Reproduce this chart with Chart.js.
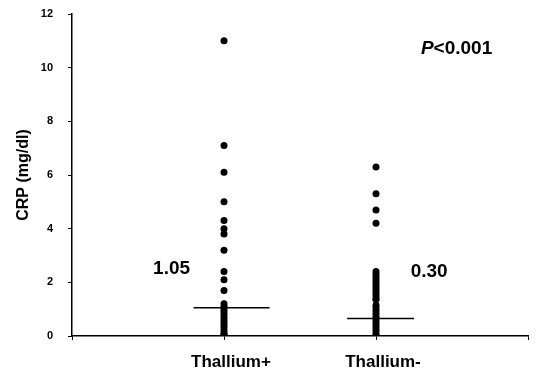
<!DOCTYPE html>
<html>
<head>
<meta charset="utf-8">
<script src="https://cdn.jsdelivr.net/npm/chart.js@4/dist/chart.umd.min.js"></script>
<style>
  body { margin: 0; background: #fff; }
  #wrap { width: 540px; height: 370px; }
</style>
</head>
<body>
<div id="wrap"><canvas id="chart" width="540" height="370"></canvas></div>
<script>
// groups sit at x = 1 and x = 2 on a 0..3 axis
const groups = ["Thallium+", "Thallium-"];
const thalliumPos = [11.0, 7.1, 6.1, 5.0, 4.3, 4.0, 3.8, 3.2, 2.4, 2.1, 1.7,
  1.2, 1.1, 1.0, 0.9, 0.8, 0.7, 0.6, 0.5, 0.4, 0.3, 0.2, 0.1, 0.05, 0.0];
const thalliumNeg = [6.3, 5.3, 4.7, 4.2,
  2.4, 2.3, 2.2, 2.1, 2.0, 1.9, 1.8, 1.7, 1.6, 1.5, 1.4, 1.35,
  1.15, 1.05, 0.95, 0.85, 0.75, 0.65, 0.55, 0.45, 0.35, 0.25, 0.15, 0.05, 0.0];
const medianLine = [1.05, 0.65];
const medianText = ["1.05", "0.30"];
const pText = "P<0.001";
const yTicks = [0, 2, 4, 6, 8, 10, 12];

const black = "#000";
const fam = "'Liberation Sans', Arial, sans-serif";

function column(values, x) {
  return values.map(v => ({ x: x, y: v }));
}

function medianSeg(i, left, right) {
  const x = i + 1;
  return [{ x: x - left, y: medianLine[i] }, { x: x + right, y: medianLine[i] }];
}

// text notes placed in data coordinates
const notes = [
  { text: medianText[0], x: 0.655, y: 2.5 },
  { text: medianText[1], x: 2.35, y: 2.4 },
  { text: pText, x: 2.53, y: 10.7, italicP: true }
];

const notesPlugin = {
  id: "notes",
  afterDraw(chart) {
    const ctx = chart.ctx;
    const xs = chart.scales.x, ys = chart.scales.y;
    ctx.save();
    ctx.fillStyle = black;
    ctx.textBaseline = "middle";

    // y tick labels, set further from the axis than the built-in padding allows
    ctx.font = "bold 11px " + fam;
    ctx.textAlign = "right";
    yTicks.forEach(v => {
      ctx.fillText(String(v), ys.right - 4 - 15, ys.getPixelForValue(v));
    });

    notes.forEach(n => {
      const px = xs.getPixelForValue(n.x);
      const py = ys.getPixelForValue(n.y);
      if (n.italicP) {
        const rest = n.text.slice(1);
        ctx.font = "italic bold 19px " + fam;
        const wP = ctx.measureText("P").width;
        ctx.font = "bold 19px " + fam;
        const wR = ctx.measureText(rest).width;
        const x0 = px - (wP + wR) / 2;
        ctx.textAlign = "left";
        ctx.font = "italic bold 19px " + fam;
        ctx.fillText("P", x0, py);
        ctx.font = "bold 19px " + fam;
        ctx.fillText(rest, x0 + wP, py);
      } else {
        ctx.font = "bold 19px " + fam;
        ctx.textAlign = "center";
        ctx.fillText(n.text, px, py);
      }
    });
    ctx.restore();
  }
};

const dotStyle = {
  showLine: false,
  pointRadius: 3.5,
  pointBackgroundColor: black,
  pointBorderWidth: 0,
  borderColor: black
};

new Chart(document.getElementById("chart"), {
  type: "scatter",
  data: {
    datasets: [
      Object.assign({ label: groups[0], data: column(thalliumPos, 1) }, dotStyle),
      Object.assign({ label: groups[1], data: column(thalliumNeg, 2) }, dotStyle),
      { type: "line", label: "median+", data: medianSeg(0, 0.2, 0.3), borderColor: black,
        borderWidth: 1.5, pointRadius: 0 },
      { type: "line", label: "median-", data: medianSeg(1, 0.19, 0.25), borderColor: black,
        borderWidth: 1.5, pointRadius: 0 }
    ]
  },
  options: {
    responsive: false,
    animation: false,
    layout: { padding: { top: 14, right: 10, bottom: 0, left: 0 } },
    plugins: { legend: { display: false }, tooltip: { enabled: false } },
    scales: {
      x: {
        type: "linear",
        min: 0,
        max: 3,
        afterFit: s => { s.height = 34; },
        afterBuildTicks: s => { s.ticks = [0, 1, 2, 3].map(v => ({ value: v })); },
        border: { display: true, color: black, width: 1.5 },
        grid: { drawOnChartArea: false, drawTicks: true, tickLength: 4, color: black },
        ticks: {
          color: black,
          padding: 12,
          labelOffset: 7,
          maxRotation: 0,
          font: { family: fam, size: 17, weight: "bold" },
          callback: v => (v === 1 || v === 2) ? groups[v - 1] : ""
        }
      },
      y: {
        min: 0,
        max: 12,
        afterFit: s => { s.width = 72; },
        afterBuildTicks: s => { s.ticks = yTicks.map(v => ({ value: v })); },
        border: { display: true, color: black, width: 1.5 },
        grid: { drawOnChartArea: false, drawTicks: true, tickLength: 4, color: black },
        ticks: { display: false },
        title: {
          display: true,
          text: "CRP (mg/dl)",
          color: black,
          padding: { top: 14, bottom: 0 },
          font: { family: fam, size: 16, weight: "bold" }
        }
      }
    }
  },
  plugins: [notesPlugin]
});
</script>
</body>
</html>
